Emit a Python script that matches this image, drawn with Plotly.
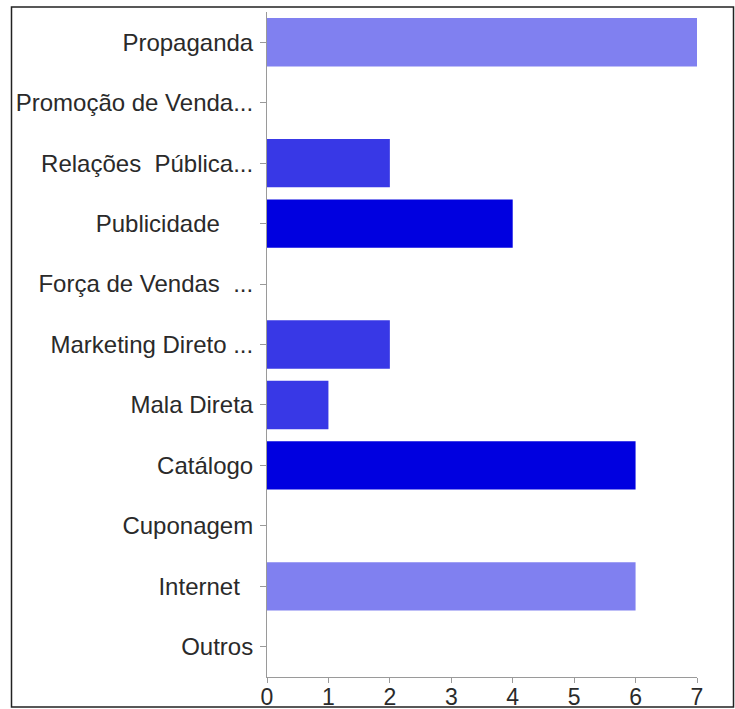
import plotly.graph_objects as go

# Communication tools and how many times each was chosen
categories = [
    "Propaganda",
    "Promoção de Venda...",
    "Relações\u00a0\u00a0Pública...",
    "Publicidade\u00a0\u00a0\u00a0\u00a0\u00a0",
    "Força de Vendas\u00a0\u00a0...",
    "Marketing Direto ...",
    "Mala Direta",
    "Catálogo",
    "Cuponagem",
    "Internet\u00a0\u00a0",
    "Outros",
]
values = [7, 0, 2, 4, 0, 2, 1, 6, 0, 6, 0]
bar_colors = [
    "#8080f0", "#8080f0", "#3838e6", "#0000e0", "#3838e6", "#3838e6",
    "#3838e6", "#0000e0", "#8080f0", "#8080f0", "#8080f0",
]
x_ticks = [0, 1, 2, 3, 4, 5, 6, 7]

W, H = 735, 709
L, R, T, B = 267, 38, 12, 32
plot_w = W - L - R
plot_h = H - T - B

fig = go.Figure(
    go.Bar(
        y=categories,
        x=values,
        orientation="h",
        width=0.8,
        marker=dict(color=bar_colors, line=dict(width=0)),
        hoverinfo="x+y",
    )
)


def px_to_paper_x(px):
    return (px - L) / plot_w


def px_to_paper_y(py):
    return (H - B - py) / plot_h


fig.add_shape(
    type="rect",
    xref="paper", yref="paper",
    x0=px_to_paper_x(11.5), x1=px_to_paper_x(733.5),
    y0=px_to_paper_y(707), y1=px_to_paper_y(7),
    line=dict(color="#222222", width=1.5),
    fillcolor="rgba(0,0,0,0)",
    layer="below",
)

fig.update_layout(
    width=W,
    height=H,
    autosize=False,
    margin=dict(l=L, r=R, t=T, b=B, pad=0, autoexpand=False),
    paper_bgcolor="white",
    plot_bgcolor="white",
    showlegend=False,
    font=dict(family="Liberation Sans, Arial, sans-serif", size=24, color="#2a2a2a"),
)
fig.update_xaxes(
    range=[0, 7],
    tickvals=x_ticks,
    ticktext=[str(v) for v in x_ticks],
    showgrid=False,
    zeroline=False,
    showline=True,
    linecolor="#9a9a9a",
    linewidth=1,
    ticks="outside",
    ticklen=5,
    tickcolor="#9a9a9a",
    tickfont=dict(size=23, color="#2a2a2a"),
    ticklabelstandoff=-6,
    automargin=False,
    fixedrange=True,
)
fig.update_yaxes(
    categoryorder="array",
    categoryarray=categories,
    autorange="reversed",
    showgrid=False,
    zeroline=False,
    showline=True,
    linecolor="#9a9a9a",
    linewidth=1,
    ticks="outside",
    ticklen=6,
    tickcolor="#9a9a9a",
    ticklabelstandoff=2,
    automargin=False,
    fixedrange=True,
)

fig.write_html("out.html")
